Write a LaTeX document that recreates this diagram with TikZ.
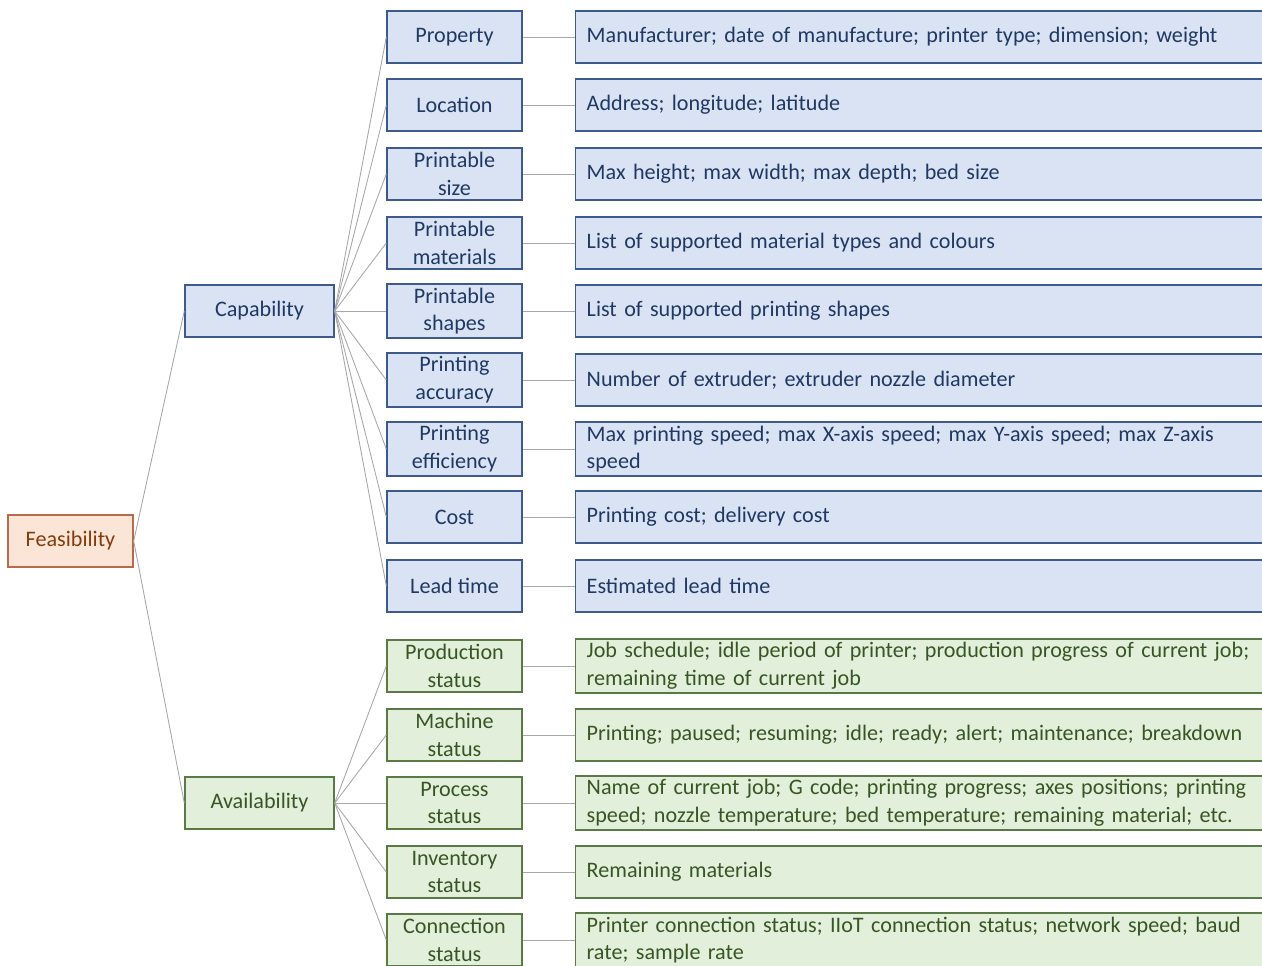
\documentclass[tikz,border=0pt]{standalone}
\usepackage{fontspec}
\setmainfont{Carlito}

\definecolor{capfill}{HTML}{DAE3F3}
\definecolor{capline}{HTML}{3E5A8C}
\definecolor{captext}{HTML}{1F3864}
\definecolor{avafill}{HTML}{E2EFDA}
\definecolor{avaline}{HTML}{5A7A45}
\definecolor{avatext}{HTML}{375623}
\definecolor{feafill}{HTML}{FBE5D6}
\definecolor{fealine}{HTML}{B86A4A}
\definecolor{featext}{HTML}{843C0C}
\definecolor{linkgray}{HTML}{A8A8A8}

\begin{document}
\begin{tikzpicture}[
basebox/.style={draw, rectangle, line width=0.8pt, minimum height=1.04cm, inner sep=2pt,
  font=\fontsize{12.6}{15.8}\selectfont},
topbox/.style={basebox, fill=feafill, draw=fealine, text=featext, minimum width=2.5cm},
capgroup/.style={basebox, fill=capfill, draw=capline, text=captext, minimum width=2.98cm},
avagroup/.style={basebox, fill=avafill, draw=avaline, text=avatext, minimum width=2.98cm},
capitem/.style={basebox, fill=capfill, draw=capline, text=captext, minimum width=2.7cm, align=center},
avaitem/.style={basebox, fill=avafill, draw=avaline, text=avatext, minimum width=2.7cm, align=center},
capinfo/.style={basebox, fill=capfill, draw=capline, text=captext, minimum width=13.9cm,
  anchor=west, align=left, text width=13.5cm, inner xsep=0.22cm},
avainfo/.style={basebox, fill=avafill, draw=avaline, text=avatext, minimum width=13.9cm,
  anchor=west, align=left, text width=13.5cm, inner xsep=0.22cm},
link/.style={draw=linkgray, line width=0.5pt}
]
\clip (0,0) rectangle (25.24,-19.32);
\useasboundingbox (0,0) rectangle (25.24,-19.32);

% root and groups
\node (feas) at (1.41,-10.82) [topbox] {Feasibility};
\node (cap) at (5.19,-6.22) [capgroup] {Capability};
\node (ava) at (5.19,-16.06) [avagroup] {Availability};

% capability items
\node (prop) at (9.09,-0.74) [capitem] {Property};
\node (loc) at (9.09,-2.10) [capitem] {Location};
\node (size) at (9.09,-3.48) [capitem] {Printable\\size};
\node (mat) at (9.09,-4.86) [capitem] {Printable\\materials};
\node (shape) at (9.09,-6.22) [capitem] {Printable\\shapes};
\node (acc) at (9.09,-7.60) [capitem] {Printing\\accuracy};
\node (eff) at (9.09,-8.98) [capitem] {Printing\\efficiency};
\node (cost) at (9.09,-10.34) [capitem] {Cost};
\node (lead) at (9.09,-11.72) [capitem] {Lead time};

% availability items
\node (prod) at (9.09,-13.32) [avaitem] {Production\\status};
\node (mach) at (9.09,-14.70) [avaitem] {Machine\\status};
\node (proc) at (9.09,-16.06) [avaitem] {Process\\status};
\node (inv) at (9.09,-17.44) [avaitem] {Inventory\\status};
\node (conn) at (9.09,-18.80) [avaitem] {Connection\\status};

% details
\node (propd) at (11.5,-0.74) [capinfo] {Manufacturer; date of manufacture; printer type; dimension; weight};
\node (locd) at (11.5,-2.10) [capinfo] {Address; longitude; latitude};
\node (sized) at (11.5,-3.48) [capinfo] {Max height; max width; max depth; bed size};
\node (matd) at (11.5,-4.86) [capinfo] {List of supported material types and colours};
\node (shaped) at (11.5,-6.22) [capinfo] {List of supported printing shapes};
\node (accd) at (11.5,-7.60) [capinfo] {Number of extruder; extruder nozzle diameter};
\node (effd) at (11.5,-8.98) [capinfo] {Max printing speed; max X-axis speed; max Y-axis speed; max Z-axis\\speed};
\node (costd) at (11.5,-10.34) [capinfo] {Printing cost; delivery cost};
\node (leadd) at (11.5,-11.72) [capinfo] {Estimated lead time};
\node (prodd) at (11.5,-13.32) [avainfo] {Job schedule; idle period of printer; production progress of current job;\\remaining time of current job};
\node (machd) at (11.5,-14.70) [avainfo] {Printing; paused; resuming; idle; ready; alert; maintenance; breakdown};
\node (procd) at (11.5,-16.06) [avainfo] {Name of current job; G code; printing progress; axes positions; printing\\speed; nozzle temperature; bed temperature; remaining material; etc.};
\node (invd) at (11.5,-17.44) [avainfo] {Remaining materials};
\node (connd) at (11.5,-18.80) [avainfo] {Printer connection status; IIoT connection status; network speed; baud\\rate; sample rate};

% connectors
\draw[link] (feas.east) -- (cap.west);
\draw[link] (feas.east) -- (ava.west);
\foreach \item in {prop,loc,size,mat,shape,acc,eff,cost,lead}{
  \draw[link] (cap.east) -- (\item.west);
  \draw[link] (\item.east) -- (\item d.west);
}
\foreach \item in {prod,mach,proc,inv,conn}{
  \draw[link] (ava.east) -- (\item.west);
  \draw[link] (\item.east) -- (\item d.west);
}

\end{tikzpicture}
\end{document}
